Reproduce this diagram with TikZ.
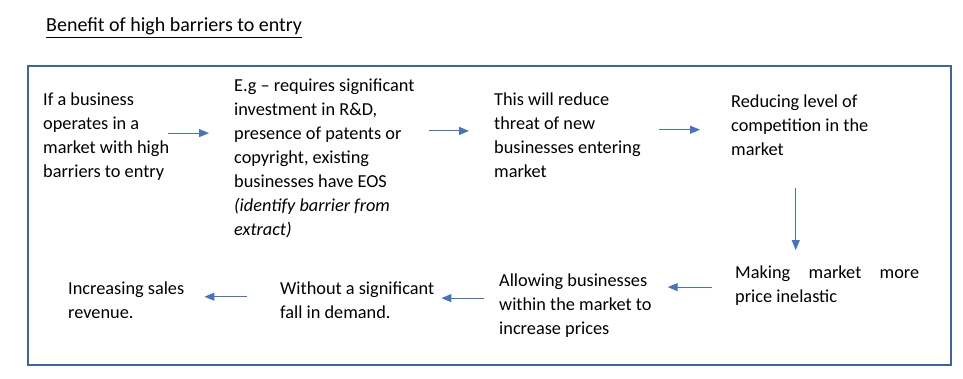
\documentclass[tikz,border=0pt]{standalone}
\usepackage{fontspec}
\setmainfont{Carlito}
\usetikzlibrary{positioning, arrows.meta}
\definecolor{framblue}{HTML}{3F63A4}
\definecolor{arrowblue}{HTML}{4472C4}
\newcommand{\bodyfont}{\fontsize{18.3}{24}\selectfont}
\newcommand{\titlefont}{\fontsize{20}{24}\selectfont}

\begin{document}
\begin{tikzpicture}[x=1pt, y=-1pt]
                \tikzset{
                    stage/.style={anchor=base west, inner sep=0pt, align=left, font=\bodyfont},
                    flow/.style={-{Triangle[length=10pt, width=8pt]}, color=arrowblue, line width=1pt}
                }
                \useasboundingbox (0,0) rectangle (963,379);

                \node[stage, font=\titlefont] (title) at (46,32) {\underline{Benefit of high barriers to entry}};
                \draw[framblue, line width=2pt] (28,66) rectangle (951,365);

                % top row, left to right (placed at the last baseline)
                \node[stage] (entry) at (43,178) {If a business\\operates in a\\market with high\\barriers to entry};
                \node[stage] (eg) at (234,236) {E.g -- requires significant\\investment in R\&D,\\presence of patents or\\copyright, existing\\businesses have EOS\\\textit{(identify barrier from}\\\textit{extract)}};
                \node[stage] (threat) at (494,178) {This will reduce\\threat of new\\businesses entering\\market};
                \node[stage] (comp) at (731,156) {Reducing level of\\competition in the\\market};

                % bottom row, right to left
                \node[stage] (inelastic) at (735,302) {\hbox to 184pt{Making\hfill market\hfill more}\\price inelastic};
                \node[stage] (prices) at (499,334) {Allowing businesses\\within the market to\\increase prices};
                \node[stage] (demand) at (280,318) {Without a significant\\fall in demand.};
                \node[stage] (revenue) at (68,318) {Increasing sales\\revenue.};

                \path[every edge/.append style={flow}]
                    ([yshift=4pt]entry.east) edge[shorten <=-1pt, shorten >=25pt] ([yshift=4pt]entry.east -| eg.west)
                    ([yshift=28pt]eg.east) edge[shorten <=14pt, shorten >=25pt] ([yshift=28pt]eg.east -| threat.west)
                    ([yshift=6pt]threat.east) edge[shorten <=18pt, shorten >=31pt] ([yshift=6pt]threat.east -| comp.west)
                    ([xshift=-4pt]comp.south) edge[shorten <=32pt, shorten >=15pt] ([xshift=-4pt]comp.south |- inelastic.north)
                    ([yshift=-2pt]inelastic.west) edge[shorten <=23pt, shorten >=16pt] ([yshift=-2pt]inelastic.west -| prices.east)
                    ([yshift=7pt]prices.west) edge[shorten <=15pt, shorten >=7pt] ([yshift=7pt]prices.west -| demand.east)
                    ([yshift=3pt]demand.west) edge[shorten <=33pt, shorten >=20pt] ([yshift=3pt]demand.west -| revenue.east);

            \end{tikzpicture}
\end{document}
